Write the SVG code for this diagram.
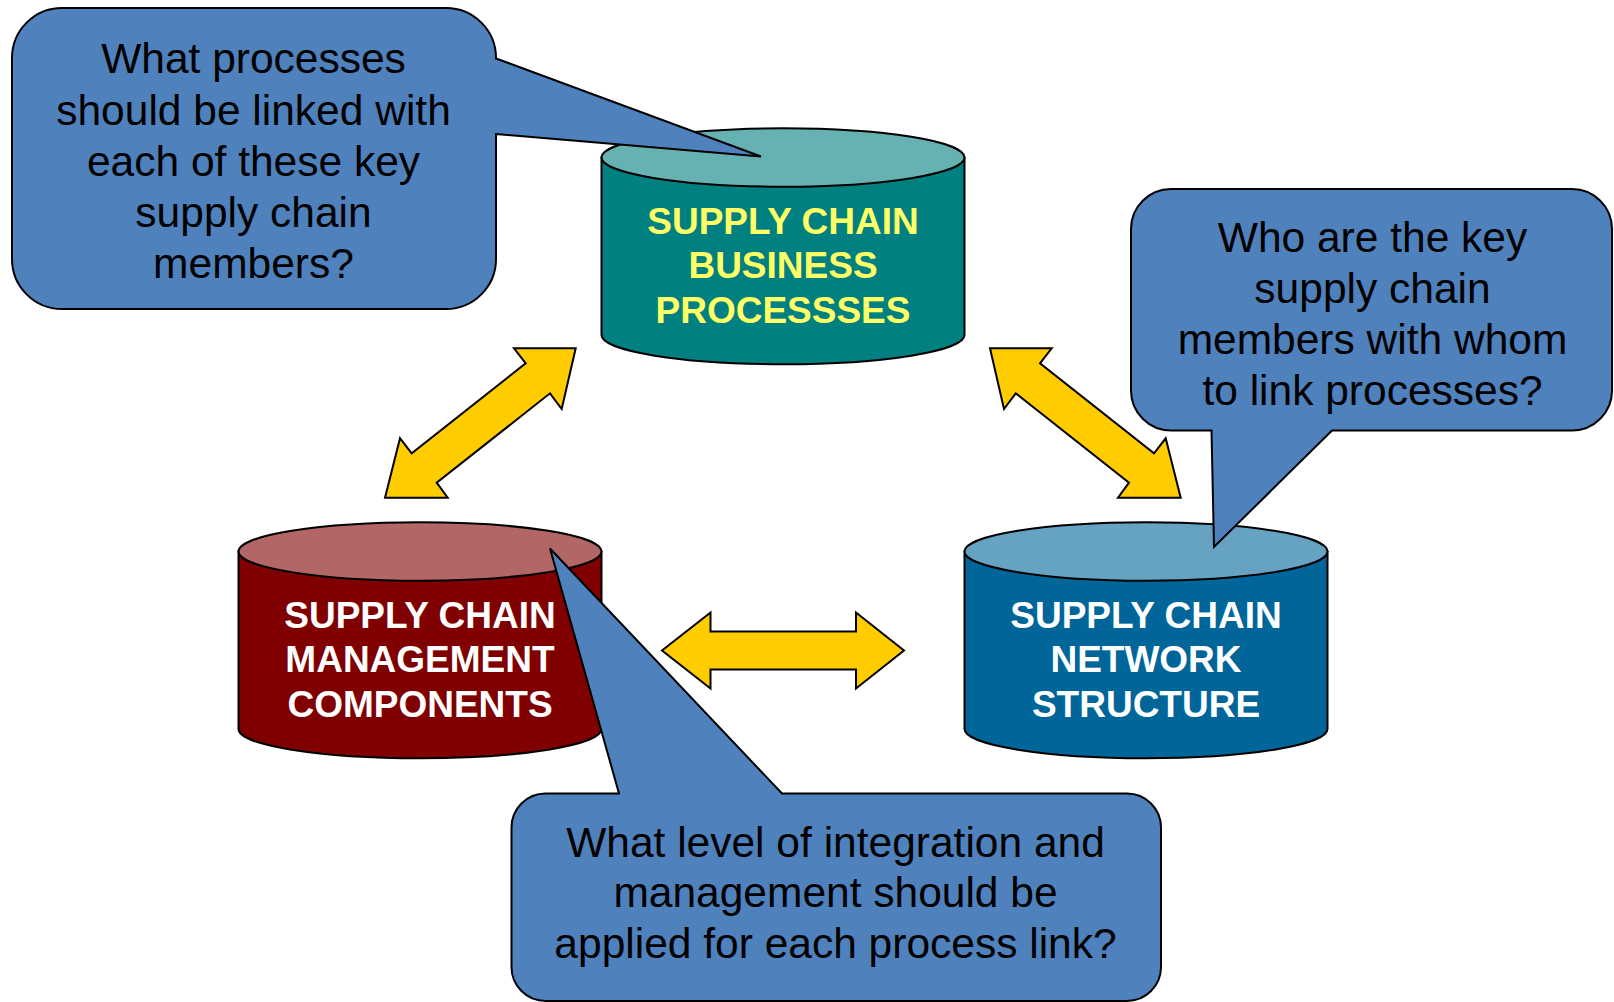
<svg xmlns="http://www.w3.org/2000/svg" width="1614" height="1002" viewBox="0 0 1614 1002">
<style>
.cyl{stroke:#000;stroke-width:2}
.lbl{font-family:"Liberation Sans",Arial,sans-serif;font-weight:bold;font-size:37px;text-anchor:middle}
.callout{fill:#4F81BD;stroke:#000;stroke-width:2;stroke-linejoin:miter}
.ctext{font-family:"Liberation Sans",Arial,sans-serif;font-size:42.5px;text-anchor:middle;fill:#000}
.arrow{fill:#FFCC00;stroke:#000;stroke-width:2;stroke-linejoin:miter}
</style>
<rect width="1614" height="1002" fill="#fff"/>
<g id="connectors">
<polygon class="arrow" points="575.7,348.3 561.7,409 550,393.3 436.7,482.7 447.7,497.7 385,497.7 400,438.3 411.7,453.3 525.7,363.3 514,348.3"/>
<polygon class="arrow" points="990,348.3 1004,409 1015.7,393.3 1129,482.7 1118,497.7 1180.7,497.7 1165.7,438.3 1154,453.3 1040,363.3 1051.7,348.3"/>
<polygon class="arrow" points="662,650.5 710.5,612.5 710.5,631.5 856,631.5 856,612.5 904,650.5 856,688.5 856,669.5 710.5,669.5 710.5,688.5"/>
</g>
<g id="node-business-processes">
<path class="cyl" fill="#008080" d="M601.5,157.5 V335 A181.5 29.2 0 0 0 964.5,335 V157.5 Z"/>
<ellipse class="cyl" fill="#66B2B2" cx="783" cy="157.5" rx="181.5" ry="29.2"/>
<text class="lbl" fill="#FFFF66" x="783" y="233.5">SUPPLY CHAIN</text>
<text class="lbl" fill="#FFFF66" x="783" y="278">BUSINESS</text>
<text class="lbl" fill="#FFFF66" x="783" y="322.5">PROCESSSES</text>
</g>
<g id="node-management-components">
<path class="cyl" fill="#800000" d="M238.5,551.5 V729 A181.5 29.2 0 0 0 601.5,729 V551.5 Z"/>
<ellipse class="cyl" fill="#B36666" cx="420" cy="551.5" rx="181.5" ry="29.2"/>
<text class="lbl" fill="#FFFFFF" x="420" y="627.5">SUPPLY CHAIN</text>
<text class="lbl" fill="#FFFFFF" x="420" y="672">MANAGEMENT</text>
<text class="lbl" fill="#FFFFFF" x="420" y="716.5">COMPONENTS</text>
</g>
<g id="node-network-structure">
<path class="cyl" fill="#006699" d="M964.5,551.5 V729 A181.5 29.2 0 0 0 1327.5,729 V551.5 Z"/>
<ellipse class="cyl" fill="#66A3C2" cx="1146" cy="551.5" rx="181.5" ry="29.2"/>
<text class="lbl" fill="#FFFFFF" x="1146" y="627.5">SUPPLY CHAIN</text>
<text class="lbl" fill="#FFFFFF" x="1146" y="672">NETWORK</text>
<text class="lbl" fill="#FFFFFF" x="1146" y="716.5">STRUCTURE</text>
</g>
<g id="callout-processes">
<path class="callout" d="M62,8 H446 A50 50 0 0 1 496,58 L496,58.5 L761,156.5 L496,134 V259 A50 50 0 0 1 446,309 H62 A50 50 0 0 1 12,259 V58 A50 50 0 0 1 62,8 Z"/>
<text class="ctext" x="253.5" y="73.3">What processes</text>
<text class="ctext" x="253.5" y="124.5">should be linked with</text>
<text class="ctext" x="253.5" y="175.7">each of these key</text>
<text class="ctext" x="253.5" y="226.9">supply chain</text>
<text class="ctext" x="253.5" y="278.1">members?</text>
</g>
<g id="callout-members">
<path class="callout" d="M1171,189 H1572 A40 40 0 0 1 1612,229 V390.5 A40 40 0 0 1 1572,430.5 H1332 L1214,547 L1211.5,430.5 H1171 A40 40 0 0 1 1131,390.5 V229 A40 40 0 0 1 1171,189 Z"/>
<text class="ctext" x="1372.5" y="251.5">Who are the key</text>
<text class="ctext" x="1372.5" y="302.5">supply chain</text>
<text class="ctext" x="1372.5" y="353.5">members with whom</text>
<text class="ctext" x="1372.5" y="404.5">to link processes?</text>
</g>
<g id="callout-integration">
<path class="callout" d="M545.5,793.5 H619 L550,548.5 L782,793.5 H1127 A34 34 0 0 1 1161,827.5 V967 A34 34 0 0 1 1127,1001 H545.5 A34 34 0 0 1 511.5,967 V827.5 A34 34 0 0 1 545.5,793.5 Z"/>
<text class="ctext" x="835.5" y="856.5">What level of integration and</text>
<text class="ctext" x="835.5" y="907">management should be</text>
<text class="ctext" x="835.5" y="957.5">applied for each process link?</text>
</g>
</svg>
